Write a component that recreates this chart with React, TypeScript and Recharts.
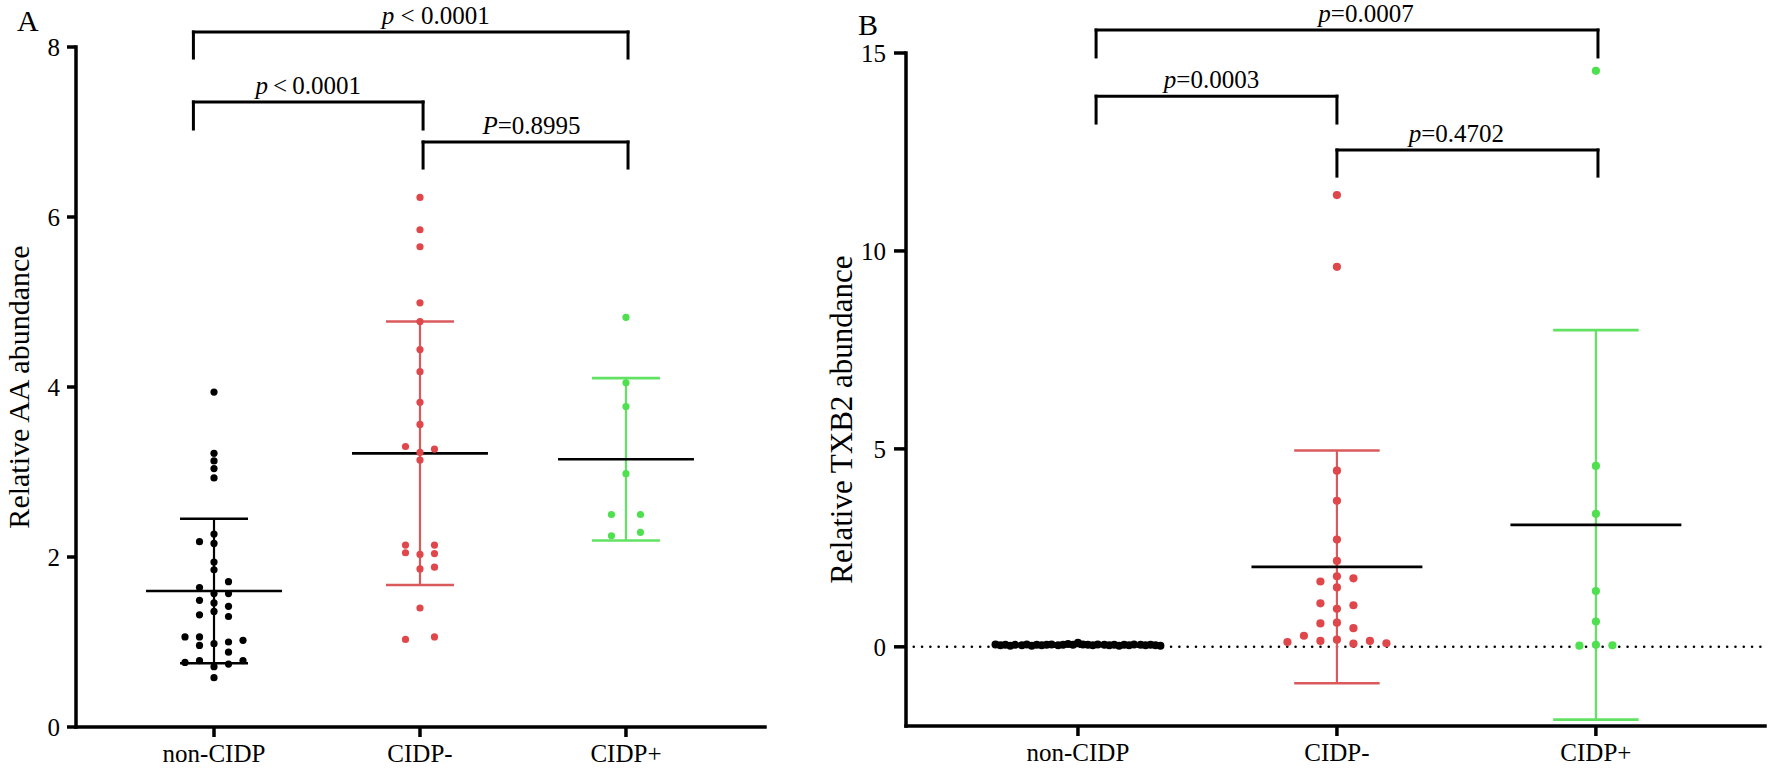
import React from 'react';
import { ComposedChart, Scatter, XAxis, YAxis, ReferenceLine } from 'recharts';

const FONT = '"Liberation Serif", "Times New Roman", Times, serif';

const categories = ['non-CIDP', 'CIDP-', 'CIDP+'];

// ---------- Panel A: Relative AA abundance ----------
const aaNonCidp = [3.94, 3.22, 3.13, 3.04, 2.93, 2.27, 2.18, 2.16, 1.94, 1.85, 1.71, 1.64, 1.57, 1.57, 1.49, 1.46, 1.42, 1.36, 1.32, 1.30, 1.06, 1.06, 1.02, 0.98, 1.00, 0.96, 0.88, 0.78, 0.76, 0.78, 0.74, 0.71, 0.58];
const aaNonCidpLanes = [0, 0, 0, 0, 0, 0, -1, 0, 0, 0, 1, -1, 0, 1, -1, 0, 1, 0, -1, 1, -2, -1, 2, 0, 1, -1, 1, -1, -2, 2, 1, 0, 0];
const aaCidpNeg = [6.23, 5.85, 5.65, 4.99, 4.77, 4.44, 4.18, 3.82, 3.56, 3.30, 3.27, 3.23, 3.14, 2.14, 2.14, 2.05, 2.04, 2.03, 1.86, 1.88, 1.40, 1.03, 1.06];
const aaCidpNegLanes = [0, 0, 0, 0, 0, 0, 0, 0, 0, -1, 1, 0, 0, -1, 1, -1, 1, 0, 0, 1, 0, -1, 1];
const aaCidpPos = [4.82, 4.05, 3.77, 2.98, 2.50, 2.50, 2.25, 2.29];
const aaCidpPosLanes = [0, 0, 0, 0, -1, 1, -1, 1];
const aaMeans = [1.60, 3.22, 3.15];
const aaSD = [0.85, 1.55, 0.955];
const aaTicks = [0, 2, 4, 6, 8];
const aaBrackets = [
  { from: 0.9, to: 3.01, top: 8.176, leg: 7.87, dx: 25 },
  { from: 0.9, to: 2.015, top: 7.353, leg: 7.035, dx: 0 },
  { from: 2.015, to: 3.01, top: 6.882, leg: 6.576, dx: 6 },
];
const aaPLabels = ['p  <  0.0001', 'p\u2009<\u20090.0001', 'P=0.8995'];

// ---------- Panel B: Relative TXB2 abundance ----------
const txNonCidp = [0.06, 0.04, 0.05, 0.03, 0.05, 0.04, 0.06, 0.03, 0.05, 0.04, 0.05, 0.06, 0.04, 0.05, 0.07, 0.05, 0.10, 0.06, 0.05, 0.04, 0.06, 0.05, 0.04, 0.05, 0.03, 0.05, 0.04, 0.06, 0.05, 0.04, 0.05, 0.04, 0.03];
const txNonCidpLanes = [-5.0, -4.7, -4.4, -4.1, -3.8, -3.4, -3.1, -2.8, -2.5, -2.2, -1.9, -1.6, -1.2, -0.9, -0.6, -0.3, 0, 0.3, 0.6, 0.9, 1.2, 1.6, 1.9, 2.2, 2.5, 2.8, 3.1, 3.4, 3.8, 4.1, 4.4, 4.7, 5.0];
const txCidpNeg = [11.41, 9.60, 4.45, 3.69, 2.71, 2.17, 1.65, 1.73, 1.78, 1.50, 1.10, 1.05, 0.96, 0.59, 0.61, 0.47, 0.28, 0.12, 0.15, 0.18, 0.08, 0.15, 0.09];
const txCidpNegLanes = [0, 0, 0, 0, 0, 0, -1, 1, 0, 0, -1, 1, 0, -1, 0, 1, -2, -3, -1, 0, 1, 2, 3];
const txCidpPos = [14.55, 4.57, 3.36, 1.41, 0.64, 0.03, 0.05, 0.04];
const txCidpPosLanes = [0, 0, 0, 0, 0, -1, 0, 1];
const txMeans = [0.05, 2.02, 3.08];
const txSD = [0.03, 2.94, 4.92];
const txTicks = [0, 5, 10, 15];
const txBrackets = [
  { from: 1.07, to: 3.008, top: 15.58, leg: 14.9, dx: 19 },
  { from: 1.07, to: 2.0, top: 13.91, leg: 13.23, dx: -5 },
  { from: 2.0, to: 3.008, top: 12.55, leg: 11.89, dx: -11 },
];
const txPLabels = ['p=0.0007', 'p=0.0003', 'p=0.4702'];

// ---------- styles ----------
const dotColors = ['#000000', '#e0474b', '#4ee04e'];
const sdColors = ['#000000', '#da5a5c', '#62e262'];
const MEAN_HALF = 0.33;
const CAP_HALF = 0.165;

const toPoints = (vals: number[], lanes: number[], cat: number, step: number) =>
  vals.map((v, i) => ({ x: cat + lanes[i] * step, y: v }));

const noShape = () => <g />;

function segment(key: string, x1: number, y1: number, x2: number, y2: number, stroke: string, width: number) {
  return (
    <Scatter
      key={key}
      data={[{ x: x1, y: y1 }, { x: x2, y: y2 }]}
      line={{ stroke, strokeWidth: width, strokeLinecap: 'butt' }}
      shape={noShape}
      isAnimationActive={false}
    />
  );
}

function errorBars(prefix: string, means: number[], sds: number[]) {
  const out: any[] = [];
  means.forEach((m, i) => {
    const c = i + 1;
    const col = sdColors[i];
    out.push(segment(`${prefix}v${i}`, c, m - sds[i], c, m + sds[i], col, 2.2));
    out.push(segment(`${prefix}u${i}`, c - CAP_HALF, m + sds[i], c + CAP_HALF, m + sds[i], col, 2.6));
    out.push(segment(`${prefix}l${i}`, c - CAP_HALF, m - sds[i], c + CAP_HALF, m - sds[i], col, 2.6));
  });
  return out;
}

function meanLines(prefix: string, means: number[]) {
  return means.map((m, i) => segment(`${prefix}m${i}`, i + 1 - MEAN_HALF, m, i + 1 + MEAN_HALF, m, '#000', 2.7));
}

function dots(key: string, pts: { x: number; y: number }[], color: string, r: number) {
  return (
    <Scatter
      key={key}
      data={pts}
      isAnimationActive={false}
      shape={(p: any) => <circle cx={p.cx} cy={p.cy} r={r} fill={color} />}
    />
  );
}

const PText = (props: any) => {
  const { viewBox, text, dx } = props;
  if (!viewBox) return null;
  const x = viewBox.x + viewBox.width / 2 + dx;
  const y = viewBox.y - 8;
  return (
    <text x={x} y={y} textAnchor="middle" fontFamily={FONT} fontSize={25} fill="#000">
      <tspan fontStyle="italic">{text[0]}</tspan>
      <tspan>{text.slice(1)}</tspan>
    </text>
  );
};

function brackets(prefix: string, list: typeof aaBrackets, labels: string[]) {
  const out: any[] = [];
  list.forEach((b, i) => {
    const common = { stroke: '#000', strokeWidth: 3, ifOverflow: 'visible' as const, strokeLinecap: 'square' as const };
    out.push(
      <ReferenceLine
        key={`${prefix}h${i}`}
        segment={[{ x: b.from, y: b.top }, { x: b.to, y: b.top }]}
        {...common}
        label={(p: any) => <PText {...p} text={labels[i]} dx={b.dx} />}
      />
    );
    out.push(<ReferenceLine key={`${prefix}a${i}`} segment={[{ x: b.from, y: b.leg }, { x: b.from, y: b.top }]} {...common} />);
    out.push(<ReferenceLine key={`${prefix}b${i}`} segment={[{ x: b.to, y: b.leg }, { x: b.to, y: b.top }]} {...common} />);
  });
  return out;
}

const yLabel = (text: string, cx: number, dy: number, size: number) => (p: any) => {
  const vb = p.viewBox;
  if (!vb) return null;
  const x = vb.x + cx;
  const y = vb.y + vb.height / 2 + dy;
  return (
    <text
      x={x}
      y={y}
      transform={`rotate(-90, ${x}, ${y})`}
      textAnchor="middle"
      dominantBaseline="central"
      fontFamily={FONT}
      fontSize={size}
      fill="#000"
    >
      {text}
    </text>
  );
};

const axisLine = { stroke: '#000', strokeWidth: 3.5, strokeLinecap: 'square' };
const tickLine = { stroke: '#000', strokeWidth: 3.5 };
const tickStyle = { fill: '#000', fontSize: 25, fontFamily: FONT };
const catFormatter = (v: number) => categories[Math.round(v) - 1] ?? '';

function PanelA() {
  const step = 0.0704;
  return (
    <ComposedChart width={800} height={770} margin={{ top: 47, right: 35, bottom: 3, left: 0 }}>
      <XAxis
        type="number"
        dataKey="x"
        domain={[0.33, 3.675]}
        allowDataOverflow
        ticks={[1, 2, 3]}
        interval={0}
        tickFormatter={catFormatter}
        height={40}
        axisLine={axisLine}
        tickLine={tickLine}
        tickSize={10}
        tickMargin={7}
        tick={tickStyle}
      />
      <YAxis
        type="number"
        dataKey="y"
        domain={[0, 8]}
        allowDataOverflow
        ticks={aaTicks}
        interval={0}
        width={76}
        axisLine={axisLine}
        tickLine={tickLine}
        tickSize={9}
        tickMargin={7}
        tick={tickStyle}
        label={yLabel('Relative AA abundance', 18, 0, 30)}
      />
      {errorBars('a', aaMeans, aaSD)}
      {meanLines('a', aaMeans)}
      {dots('a0', toPoints(aaNonCidp, aaNonCidpLanes, 1, step), dotColors[0], 3.6)}
      {dots('a1', toPoints(aaCidpNeg, aaCidpNegLanes, 2, step), dotColors[1], 3.6)}
      {dots('a2', toPoints(aaCidpPos, aaCidpPosLanes, 3, step), dotColors[2], 3.6)}
      {brackets('ab', aaBrackets, aaPLabels)}
    </ComposedChart>
  );
}

function PanelB() {
  const step = 0.0637;
  const lo = 0.336;
  const hi = 3.653;
  return (
    <ComposedChart width={970} height={770} margin={{ top: 53, right: 5, bottom: 4, left: 0 }}>
      <XAxis
        type="number"
        dataKey="x"
        domain={[lo, hi]}
        allowDataOverflow
        ticks={[1, 2, 3]}
        interval={0}
        tickFormatter={catFormatter}
        height={40}
        axisLine={axisLine}
        tickLine={tickLine}
        tickSize={10}
        tickMargin={7}
        tick={tickStyle}
      />
      <YAxis
        type="number"
        dataKey="y"
        domain={[-2, 15]}
        allowDataOverflow
        ticks={txTicks}
        interval={0}
        width={106}
        axisLine={axisLine}
        tickLine={tickLine}
        tickSize={12}
        tickMargin={8}
        tick={tickStyle}
        label={yLabel('Relative TXB2 abundance', 41, 30, 31)}
      />
      <Scatter
        data={[{ x: lo + 0.03, y: 0 }, { x: hi, y: 0 }]}
        line={{ stroke: '#000', strokeWidth: 2.6, strokeDasharray: '0 8.3', strokeLinecap: 'round' }}
        shape={noShape}
        isAnimationActive={false}
      />
      {errorBars('b', txMeans, txSD)}
      {meanLines('b', txMeans)}
      {dots('b0', toPoints(txNonCidp, txNonCidpLanes, 1, step), dotColors[0], 4)}
      {dots('b1', toPoints(txCidpNeg, txCidpNegLanes, 2, step), dotColors[1], 4.1)}
      {dots('b2', toPoints(txCidpPos, txCidpPosLanes, 3, step), dotColors[2], 4.1)}
      {brackets('bb', txBrackets, txPLabels)}
    </ComposedChart>
  );
}

export default function App() {
  return (
    <div style={{ position: 'absolute', left: 0, top: 0, width: 1770, height: 770, background: '#fff', fontFamily: FONT }}>
      <div style={{ position: 'absolute', left: 0, top: 0 }}>
        <PanelA />
      </div>
      <div style={{ position: 'absolute', left: 800, top: 0 }}>
        <PanelB />
      </div>
      <div style={{ position: 'absolute', left: 17, top: 4, fontSize: 30, lineHeight: '34px', color: '#000' }}>A</div>
      <div style={{ position: 'absolute', left: 858, top: 8, fontSize: 30, lineHeight: '34px', color: '#000' }}>B</div>
    </div>
  );
}
